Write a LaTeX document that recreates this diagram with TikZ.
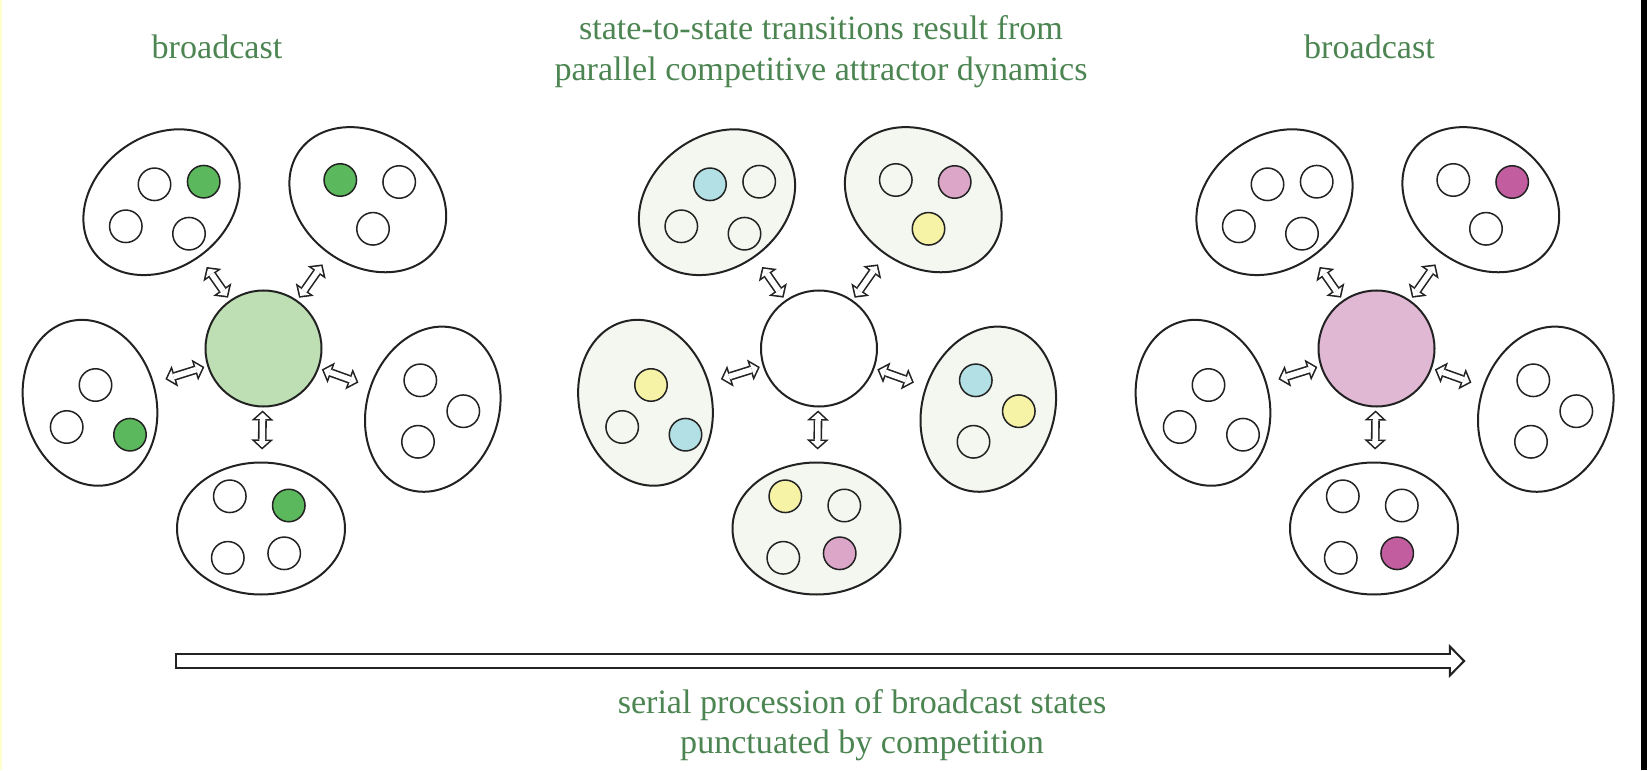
\documentclass[tikz,border=0pt]{standalone}
\usepackage{fontspec}
\setmainfont{Liberation Serif}
\usetikzlibrary{arrows.meta, shapes.geometric}
\definecolor{labelGreen}{HTML}{4C8552}
\definecolor{inkGray}{HTML}{222222}
\definecolor{hubGreen}{HTML}{BEDFB4}
\definecolor{hubPink}{HTML}{E0B8D4}
\definecolor{poolTint}{HTML}{F3F7F0}
\definecolor{dotGreen}{HTML}{5CB85C}
\definecolor{dotBlue}{HTML}{B2E0E4}
\definecolor{dotYellow}{HTML}{F6F2A6}
\definecolor{dotPink}{HTML}{DCA6C8}
\definecolor{dotMagenta}{HTML}{C25EA0}
\definecolor{edgeYellow}{HTML}{FFFFCC}

\begin{document}
\begin{tikzpicture}[
    hub/.style={circle, draw=inkGray, line width=0.02cm, minimum size=1.16cm, inner sep=0pt},
    pool/.style={ellipse, draw=inkGray, line width=0.02cm, minimum width=1.68cm, minimum height=1.32cm, inner sep=0pt},
    unit/.style={circle, draw=inkGray, line width=0.015cm, minimum size=0.325cm, inner sep=0pt},
    tipIn/.tip={Triangle[length=0.0624cm, width=0.137cm, line width=0pt]},
    tipOut/.tip={Triangle[length=0.1cm, width=0.22cm, line width=0pt]},
    link/.style={draw=white, line width=0.055cm, tipIn-tipIn, shorten <=0.0516cm, shorten >=0.1416cm,
        preaction={draw=inkGray, line width=0.087cm, tipOut-tipOut, shorten <=0.03cm, shorten >=0.12cm}},
    flow/.style={draw=white, line width=0.12cm, -{Triangle[length=0.113cm, width=0.232cm, line width=0pt]}, shorten <=0.022cm, shorten >=0.0307cm,
        preaction={draw=inkGray, line width=0.164cm, -{Triangle[length=0.166cm, width=0.34cm, line width=0pt]}, shorten <=0cm, shorten >=0cm}},
    caption/.style={font=\fontsize{9.7pt}{11.5pt}\selectfont, text=labelGreen, inner sep=0pt, align=center}
]
\useasboundingbox (0,0) rectangle (16.47,7.7);
\fill[edgeYellow] (0,0) rectangle (0.025,7.7);
\fill[black] (16.41,0) rectangle (16.47,7.7);

% three snapshots: hub, five pools and the links between them
\foreach \g/\gx/\hubfill/\poolfill in {A/2.635/hubGreen/white, B/8.19/white/poolTint, C/13.765/hubPink/white} {
  \begin{scope}[shift={(\gx,4.215)}]
    \node[hub, fill=\hubfill] (hub\g) at (0,0) {};
    \foreach \pn/\x/\y/\rot in {tl/-1.02/1.463/36.5, tr/1.043/1.488/-35.5, lf/-1.735/-0.543/105, rt/1.693/-0.607/72.7, bt/-0.025/-1.8/0} {
      \node[pool, fill=\poolfill, rotate=\rot] (\pn\g) at (\x,\y) {};
      \draw[link] (hub\g) -- (\pn\g);
    }
  \end{scope}
}

% units inside the pools
\begin{scope}[shift={(2.635,4.215)}]
  \foreach \x/\y/\col [count=\k] in {
      -1.09/1.642/none, -0.598/1.668/dotGreen, -1.377/1.222/none, -0.745/1.148/none,
      0.768/1.685/dotGreen, 1.357/1.665/none, 1.095/1.197/none,
      -1.68/-0.365/none, -1.968/-0.785/none, -1.335/-0.862/dotGreen,
      1.568/-0.318/none, 1.998/-0.627/none, 1.545/-0.933/none,
      -0.337/-1.478/none, 0.253/-1.57/dotGreen, -0.357/-2.093/none, 0.207/-2.048/none}
    \node[unit, fill=\col] (dotA\k) at (\x,\y) {};
\end{scope}
\begin{scope}[shift={(8.19,4.215)}]
  \foreach \x/\y/\col [count=\k] in {
      -1.09/1.642/dotBlue, -0.598/1.668/none, -1.377/1.222/none, -0.745/1.148/none,
      0.768/1.685/none, 1.357/1.665/dotPink, 1.095/1.197/dotYellow,
      -1.68/-0.365/dotYellow, -1.968/-0.785/none, -1.335/-0.862/dotBlue,
      1.568/-0.318/dotBlue, 1.998/-0.627/dotYellow, 1.545/-0.933/none,
      -0.337/-1.478/dotYellow, 0.253/-1.57/none, -0.357/-2.093/none, 0.207/-2.048/dotPink}
    \node[unit, fill=\col] (dotB\k) at (\x,\y) {};
\end{scope}
\begin{scope}[shift={(13.765,4.215)}]
  \foreach \x/\y/\col [count=\k] in {
      -1.09/1.642/none, -0.598/1.668/none, -1.377/1.222/none, -0.745/1.148/none,
      0.768/1.685/none, 1.357/1.665/dotMagenta, 1.095/1.197/none,
      -1.68/-0.365/none, -1.968/-0.785/none, -1.335/-0.862/none,
      1.568/-0.318/none, 1.998/-0.627/none, 1.545/-0.933/none,
      -0.337/-1.478/none, 0.253/-1.57/none, -0.357/-2.093/none, 0.207/-2.048/dotMagenta}
    \node[unit, fill=\col] (dotC\k) at (\x,\y) {};
\end{scope}

\node[caption, anchor=base] (castLeft) at (2.17,7.11) {broadcast};
\node[caption, anchor=north] (rivalry) at (8.21,7.55) {state-to-state transitions result from\\parallel competitive attractor dynamics};
\node[caption, anchor=base] (castRight) at (13.695,7.11) {broadcast};

\coordinate (flowStart) at (1.75,1.09);
\coordinate (flowEnd) at (14.655,1.09);
\draw[flow] (flowStart) -- (flowEnd);
\node[caption, anchor=north] (procession) at (8.62,0.815) {serial procession of broadcast states\\punctuated by competition};
\end{tikzpicture}
\end{document}
